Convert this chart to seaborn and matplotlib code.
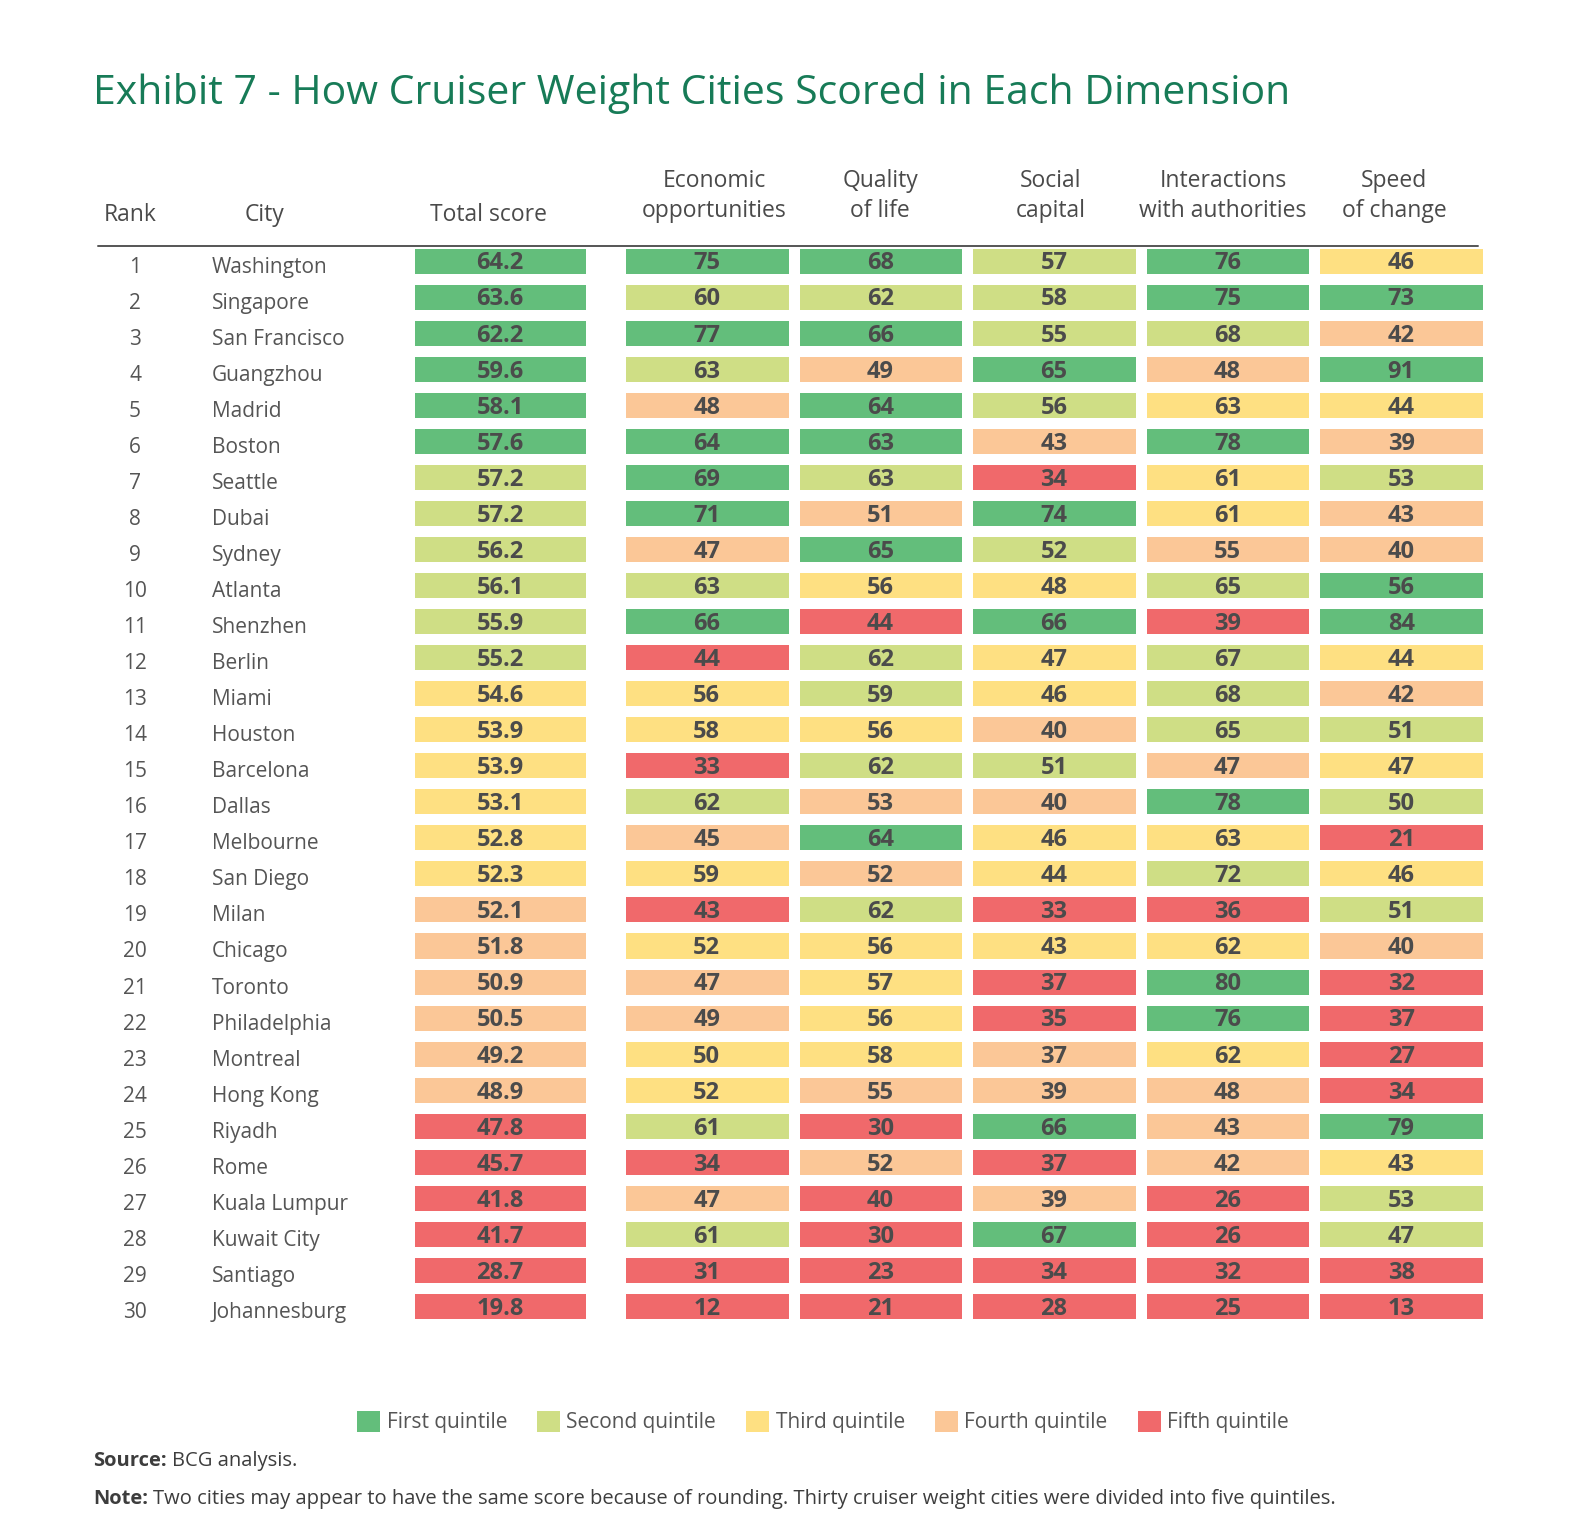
import numpy as np
import pandas as pd
import matplotlib
matplotlib.use("Agg")
import matplotlib.pyplot as plt
import matplotlib.transforms as mtransforms
from matplotlib.colors import ListedColormap
from matplotlib.patches import Patch
from matplotlib.lines import Line2D
import seaborn as sns

# ---------------- data ----------------
ranks = list(range(1, 31))
cities = ["Washington", "Singapore", "San Francisco", "Guangzhou", "Madrid", "Boston",
          "Seattle", "Dubai", "Sydney", "Atlanta", "Shenzhen", "Berlin", "Miami",
          "Houston", "Barcelona", "Dallas", "Melbourne", "San Diego", "Milan", "Chicago",
          "Toronto", "Philadelphia", "Montreal", "Hong Kong", "Riyadh", "Rome",
          "Kuala Lumpur", "Kuwait City", "Santiago", "Johannesburg"]
total_score = [64.2, 63.6, 62.2, 59.6, 58.1, 57.6, 57.2, 57.2, 56.2, 56.1, 55.9, 55.2,
               54.6, 53.9, 53.9, 53.1, 52.8, 52.3, 52.1, 51.8, 50.9, 50.5, 49.2, 48.9,
               47.8, 45.7, 41.8, 41.7, 28.7, 19.8]
economic = [75, 60, 77, 63, 48, 64, 69, 71, 47, 63, 66, 44, 56, 58, 33, 62, 45, 59, 43, 52,
            47, 49, 50, 52, 61, 34, 47, 61, 31, 12]
quality = [68, 62, 66, 49, 64, 63, 63, 51, 65, 56, 44, 62, 59, 56, 62, 53, 64, 52, 62, 56,
           57, 56, 58, 55, 30, 52, 40, 30, 23, 21]
social = [57, 58, 55, 65, 56, 43, 34, 74, 52, 48, 66, 47, 46, 40, 51, 40, 46, 44, 33, 43,
          37, 35, 37, 39, 66, 37, 39, 67, 34, 28]
interactions = [76, 75, 68, 48, 63, 78, 61, 61, 55, 65, 39, 67, 68, 65, 47, 78, 63, 72, 36, 62,
                80, 76, 62, 48, 43, 42, 26, 26, 32, 25]
speed = [46, 73, 42, 91, 44, 39, 53, 43, 40, 56, 84, 44, 42, 51, 47, 50, 21, 46, 51, 40,
         32, 37, 27, 34, 79, 43, 53, 47, 38, 13]

# quintile of each cell (1 = first ... 5 = fifth)
q_total = [1, 1, 1, 1, 1, 1, 2, 2, 2, 2, 2, 2, 3, 3, 3, 3, 3, 3, 4, 4, 4, 4, 4, 4, 5, 5, 5, 5, 5, 5]
q_economic = [1, 2, 1, 2, 4, 1, 1, 1, 4, 2, 1, 5, 3, 3, 5, 2, 4, 3, 5, 3, 4, 4, 3, 3, 2, 5, 4, 2, 5, 5]
q_quality = [1, 2, 1, 4, 1, 1, 2, 4, 1, 3, 5, 2, 2, 3, 2, 4, 1, 4, 2, 3, 3, 3, 3, 4, 5, 4, 5, 5, 5, 5]
q_social = [2, 2, 2, 1, 2, 4, 5, 1, 2, 3, 1, 3, 3, 4, 2, 4, 3, 3, 5, 3, 5, 5, 4, 4, 1, 5, 4, 1, 5, 5]
q_interactions = [1, 1, 2, 4, 3, 1, 3, 3, 4, 2, 5, 2, 2, 2, 4, 1, 3, 2, 5, 3, 1, 1, 3, 4, 4, 4, 5, 5, 5, 5]
q_speed = [3, 1, 4, 1, 3, 4, 2, 4, 4, 1, 1, 3, 4, 2, 3, 2, 5, 3, 2, 4, 5, 5, 5, 5, 1, 3, 2, 2, 5, 5]

dimension_headers = [["Economic", "opportunities"], ["Quality", "of life"],
                     ["Social", "capital"], ["Interactions", "with authorities"],
                     ["Speed", "of change"]]
quintile_labels = ["First quintile", "Second quintile", "Third quintile",
                   "Fourth quintile", "Fifth quintile"]
quintile_colors = ["#63BE7B", "#CFDE85", "#FEE082", "#FBC797", "#F0696B"]

title = "Exhibit 7 - How Cruiser Weight Cities Scored in Each Dimension"

# ---------------- figure ----------------
sns.set_theme(style="white")
FONT = ["Open Sans", "DejaVu Sans"]
plt.rcParams["font.family"] = FONT

W, H = 1572, 1532
fig = plt.figure(figsize=(W / 100, H / 100), dpi=100)
fig.patch.set_facecolor("white")


def fx(px):
    return px / W


def fy(py):
    return 1 - py / H


def axes_px(x0, x1, y0, y1):
    return fig.add_axes([fx(x0), fy(y1), fx(x1) - fx(x0), (y1 - y0) / H])


cmap = ListedColormap(quintile_colors)
top, bottom = 242.5, 1324.0
lw = 6.8
annot_kws = dict(fontsize=17, fontweight="bold", color="#4b4b4b", family=FONT)

ax_t = axes_px(409, 591, top, bottom)
sns.heatmap(pd.DataFrame({"Total score": q_total}), ax=ax_t, cmap=cmap, vmin=0.5, vmax=5.5,
            annot=np.array(total_score).reshape(-1, 1), fmt=".1f", cbar=False,
            linewidths=lw, linecolor="white", annot_kws=annot_kws)

dims_q = pd.DataFrame({"Economic": q_economic, "Quality": q_quality, "Social": q_social,
                       "Interactions": q_interactions, "Speed": q_speed})
dims_v = np.array([economic, quality, social, interactions, speed]).T
ax_d = axes_px(620, 1488, top, bottom)
sns.heatmap(dims_q, ax=ax_d, cmap=cmap, vmin=0.5, vmax=5.5, annot=dims_v, fmt="d",
            cbar=False, linewidths=lw, linecolor="white", annot_kws=annot_kws)

for ax in (ax_t, ax_d):
    ax.set_xticks([])
    ax.set_yticks([])
    ax.set_xlabel("")
    ax.set_ylabel("")
    for s in ax.spines.values():
        s.set_visible(False)
    # nudge annotation text so digits sit visually centred in the cells
    for t in ax.texts:
        x, y = t.get_position()
        t.set_position((x, y + 0.08))

# rank & city columns
tr = mtransforms.blended_transform_factory(fig.transFigure, ax_t.transData)
for i, (r, c) in enumerate(zip(ranks, cities)):
    ax_t.text(fx(135), i + 0.68, str(r), transform=tr, ha="center", va="center",
              fontsize=15, color="#555555", clip_on=False)
    ax_t.text(fx(212), i + 0.68, c, transform=tr, ha="left", va="center",
              fontsize=15, color="#555555", clip_on=False)

# header
hdr = dict(fontsize=16.5, color="#4a4a4a", ha="center", va="center")
fig.text(fx(130), fy(215), "Rank", **hdr)
fig.text(fx(265), fy(215), "City", **hdr)
fig.text(fx(488), fy(215), "Total score", **hdr)
for cx, lines in zip([714, 880, 1051, 1223, 1394], dimension_headers):
    fig.text(fx(cx), fy(181), lines[0], **hdr)
    fig.text(fx(cx), fy(211), lines[1], **hdr)

fig.add_artist(Line2D([fx(98), fx(1478)], [fy(245.5), fy(245.5)], color="#555555", lw=1.4,
                      transform=fig.transFigure))

# title
fig.text(fx(93), fy(94), title, fontsize=29.5, color="#177B57", ha="left", va="center")

# legend
handles = [Patch(facecolor=c, edgecolor="none") for c in quintile_colors]
fig.legend(handles, quintile_labels, ncol=5, loc="center", bbox_to_anchor=(fx(823), fy(1422)),
           frameon=False, fontsize=15, handlelength=1.1, handleheight=1.2, handletextpad=0.3,
           columnspacing=1.45, labelcolor="#555555")

# source and note
renderer = fig.canvas.get_renderer()


def bold_lead(x, y, lead, rest):
    t = fig.text(fx(x), fy(y), lead, fontsize=14.5, fontweight="bold", color="#3d3d3d",
                 ha="left", va="center")
    bb = t.get_window_extent(renderer=renderer)
    fig.text(fx(bb.x1 + 5), fy(y), rest, fontsize=14.5, color="#3d3d3d", ha="left", va="center")


bold_lead(93, 1461, "Source:", "BCG analysis.")
bold_lead(93, 1499, "Note:", "Two cities may appear to have the same score because of rounding. "
          "Thirty cruiser weight cities were divided into five quintiles.")

fig.savefig("out.png", dpi=100, facecolor="white")
